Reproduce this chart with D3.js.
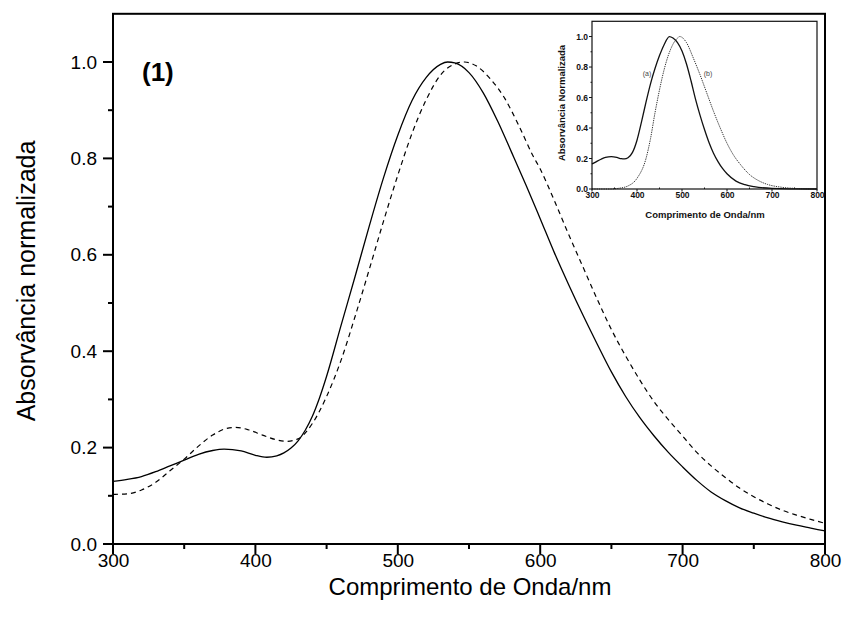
<!DOCTYPE html>
<html>
<head>
<meta charset="utf-8">
<script src="https://cdn.jsdelivr.net/npm/d3@7"></script>
<style>
  body { margin: 0; background: #fff; }
  svg { font-family: "Liberation Sans", Arial, sans-serif; }
</style>
</head>
<body>
<svg id="chart" width="845" height="621"></svg>
<script>
// main spectrum (1): solid and dashed curves
const mainWavelengths = [300, 310, 320, 330, 340, 350, 360, 370, 378, 390, 400, 408, 415, 420, 425, 430, 435, 440, 445, 450, 460, 470, 480, 490, 500, 510, 520, 530, 535, 540, 550, 560, 570, 580, 590, 600, 610, 620, 630, 640, 650, 660, 670, 680, 690, 700, 710, 720, 730, 740, 750, 760, 770, 780, 790, 800];
const mainSolid = [0.130, 0.134, 0.140, 0.150, 0.162, 0.174, 0.186, 0.194, 0.197, 0.193, 0.184, 0.180, 0.183, 0.189, 0.199, 0.214, 0.236, 0.265, 0.303, 0.348, 0.452, 0.555, 0.660, 0.760, 0.848, 0.920, 0.968, 0.995, 1.000, 0.998, 0.978, 0.936, 0.878, 0.812, 0.745, 0.675, 0.604, 0.538, 0.475, 0.415, 0.357, 0.306, 0.262, 0.224, 0.190, 0.160, 0.132, 0.108, 0.090, 0.075, 0.064, 0.054, 0.046, 0.039, 0.033, 0.027];
const mainDashedWl = [300, 310, 320, 330, 340, 350, 360, 370, 380, 386, 395, 405, 415, 422, 430, 440, 450, 460, 470, 480, 490, 500, 510, 520, 530, 540, 547, 555, 565, 575, 585, 595, 600, 610, 620, 630, 640, 650, 660, 670, 680, 690, 700, 710, 720, 730, 740, 750, 760, 770, 780, 790, 800];
const mainDashed = [0.103, 0.104, 0.112, 0.128, 0.152, 0.176, 0.203, 0.226, 0.240, 0.242, 0.237, 0.226, 0.216, 0.213, 0.218, 0.250, 0.306, 0.380, 0.472, 0.570, 0.670, 0.765, 0.852, 0.922, 0.973, 0.996, 1.000, 0.992, 0.965, 0.925, 0.868, 0.805, 0.778, 0.712, 0.642, 0.575, 0.508, 0.445, 0.390, 0.340, 0.295, 0.258, 0.224, 0.190, 0.162, 0.138, 0.116, 0.098, 0.083, 0.070, 0.060, 0.051, 0.043];

// inset spectra (a) solid and (b) dotted
const insetWlA = [300, 310, 320, 330, 343, 355, 365, 372, 380, 390, 400, 410, 420, 430, 440, 450, 460, 472, 480, 490, 500, 510, 520, 530, 540, 550, 560, 570, 580, 590, 600, 620, 640, 660, 700, 750, 800];
const insetA = [0.164, 0.180, 0.195, 0.207, 0.212, 0.207, 0.199, 0.197, 0.205, 0.240, 0.320, 0.440, 0.570, 0.690, 0.790, 0.875, 0.945, 1.000, 0.990, 0.960, 0.905, 0.820, 0.710, 0.590, 0.485, 0.390, 0.305, 0.235, 0.180, 0.135, 0.100, 0.052, 0.028, 0.015, 0.004, 0.001, 0.000];
const insetWlB = [300, 340, 360, 380, 400, 420, 430, 440, 450, 460, 470, 480, 490, 495, 510, 525, 540, 555, 570, 585, 600, 615, 630, 650, 670, 690, 720, 750, 800];
const insetB = [0.000, 0.000, 0.005, 0.020, 0.070, 0.200, 0.330, 0.500, 0.650, 0.780, 0.880, 0.950, 0.990, 1.000, 0.960, 0.860, 0.750, 0.630, 0.510, 0.400, 0.300, 0.220, 0.160, 0.095, 0.055, 0.030, 0.012, 0.004, 0.000];

const xTicks = [300, 400, 500, 600, 700, 800];
const xMinor = [350, 450, 550, 650, 750];
const yTicks = [0.0, 0.2, 0.4, 0.6, 0.8, 1.0];
const yMinor = [0.1, 0.3, 0.5, 0.7, 0.9];

const svg = d3.select("#chart");

// tick marks drawn from a scale, pointing outward
function tickMarks(g, scale, values, orient, pos, len, width, color) {
    g.selectAll(null)
        .data(values)
        .join("line")
        .attr("x1", d => orient === "bottom" ? scale(d) : pos)
        .attr("x2", d => orient === "bottom" ? scale(d) : pos - len)
        .attr("y1", d => orient === "bottom" ? pos : scale(d))
        .attr("y2", d => orient === "bottom" ? pos + len : scale(d))
        .attr("stroke", color)
        .attr("stroke-width", width);
}

// ---------- main plot ----------
const x = d3.scaleLinear().domain([300, 800]).range([113, 825]);
const y = d3.scaleLinear().domain([0, 1.1]).range([544, 13.8]);

const line = d3.line().x(d => x(d[0])).y(d => y(d[1])).curve(d3.curveMonotoneX);

svg.append("path")
    .datum(d3.zip(mainWavelengths, mainSolid))
    .attr("d", line)
    .attr("fill", "none")
    .attr("stroke", "#000")
    .attr("stroke-width", 1.3);

svg.append("path")
    .datum(d3.zip(mainDashedWl, mainDashed))
    .attr("d", line)
    .attr("fill", "none")
    .attr("stroke", "#000")
    .attr("stroke-width", 1.2)
    .attr("stroke-dasharray", "5,4");

// frame
svg.append("rect")
    .attr("x", x(300)).attr("y", y(1.1))
    .attr("width", x(800) - x(300)).attr("height", y(0) - y(1.1))
    .attr("fill", "none").attr("stroke", "#000").attr("stroke-width", 2);

const ticksG = svg.append("g");
tickMarks(ticksG, x, xTicks, "bottom", y(0), 10, 2, "#000");
tickMarks(ticksG, x, xMinor, "bottom", y(0), 5, 2, "#000");
tickMarks(ticksG, y, yTicks, "left", x(300), 10, 2, "#000");
tickMarks(ticksG, y, yMinor, "left", x(300), 5, 2, "#000");

const xAxis = svg.append("g")
    .attr("transform", `translate(0, ${y(0)})`)
    .call(d3.axisBottom(x).tickValues(xTicks).tickSize(0).tickPadding(10).tickFormat(d3.format("d")));

const yAxis = svg.append("g")
    .attr("transform", `translate(${x(300)}, 0)`)
    .call(d3.axisLeft(y).tickValues(yTicks).tickSize(0).tickPadding(16).tickFormat(d3.format(".1f")));

svg.selectAll(".domain").remove();
svg.selectAll(".tick line").remove();
[xAxis, yAxis].forEach(a => a.selectAll("text")
    .attr("font-size", 19)
    .attr("font-family", "Liberation Sans, Arial")
    .attr("fill", "#000"));

svg.append("text")
    .attr("x", 470).attr("y", 595)
    .attr("text-anchor", "middle")
    .attr("font-size", 24)
    .text("Comprimento de Onda/nm");

svg.append("text")
    .attr("transform", "translate(35, 281) rotate(-90)")
    .attr("text-anchor", "middle")
    .attr("font-size", 25)
    .text("Absorvância normalizada");

svg.append("text")
    .attr("x", 142).attr("y", 81)
    .attr("font-size", 26)
    .attr("font-weight", "bold")
    .text("(1)");

// ---------- inset ----------
const xi = d3.scaleLinear().domain([300, 800]).range([592, 817]);
const yi = d3.scaleLinear().domain([0, 1.1]).range([189, 21.3]);
const inset = svg.append("g");

const lineI = d3.line().x(d => xi(d[0])).y(d => yi(d[1])).curve(d3.curveMonotoneX);

inset.append("path")
    .datum(d3.zip(insetWlA, insetA))
    .attr("d", lineI)
    .attr("fill", "none").attr("stroke", "#111").attr("stroke-width", 1.3);

inset.append("path")
    .datum(d3.zip(insetWlB, insetB))
    .attr("d", lineI)
    .attr("fill", "none").attr("stroke", "#333").attr("stroke-width", 1)
    .attr("stroke-dasharray", "1.3,1");

inset.append("rect")
    .attr("x", xi(300)).attr("y", yi(1.1))
    .attr("width", xi(800) - xi(300)).attr("height", yi(0) - yi(1.1))
    .attr("fill", "none").attr("stroke", "#111").attr("stroke-width", 1.2);

const insetTicks = inset.append("g");
tickMarks(insetTicks, xi, xTicks, "bottom", yi(0), 2.5, 1, "#111");
tickMarks(insetTicks, xi, xMinor, "bottom", yi(0), -1.5, 1, "#111");
tickMarks(insetTicks, yi, yTicks, "left", xi(300), 3, 1, "#111");
tickMarks(insetTicks, yi, yMinor, "left", xi(300), 1.5, 1, "#111");

const xiAxis = inset.append("g")
    .attr("transform", `translate(0, ${yi(0)})`)
    .call(d3.axisBottom(xi).tickValues(xTicks).tickSize(0).tickPadding(3).tickFormat(d3.format("d")));
const yiAxis = inset.append("g")
    .attr("transform", `translate(${xi(300)}, 0)`)
    .call(d3.axisLeft(yi).tickValues(yTicks).tickSize(0).tickPadding(4).tickFormat(d3.format(".1f")));

inset.selectAll(".domain").remove();
inset.selectAll(".tick line").remove();
inset.selectAll(".tick text")
    .attr("font-size", 8.5).attr("font-weight", "bold")
    .attr("font-family", "Liberation Sans, Arial").attr("fill", "#111");

inset.append("text")
    .attr("x", 705).attr("y", 218)
    .attr("text-anchor", "middle")
    .attr("font-size", 9.5).attr("font-weight", "bold").attr("fill", "#111")
    .text("Comprimento de Onda/nm");

inset.append("text")
    .attr("transform", "translate(565, 103) rotate(-90)")
    .attr("text-anchor", "middle")
    .attr("font-size", 9.5).attr("font-weight", "bold").attr("fill", "#111")
    .text("Absorvância Normalizada");

inset.append("text")
    .attr("x", 647).attr("y", 76)
    .attr("text-anchor", "middle")
    .attr("font-size", 7).attr("fill", "#444")
    .text("(a)");

inset.append("text")
    .attr("x", 708).attr("y", 76)
    .attr("text-anchor", "middle")
    .attr("font-size", 7).attr("fill", "#444")
    .text("(b)");
</script>
</body>
</html>
